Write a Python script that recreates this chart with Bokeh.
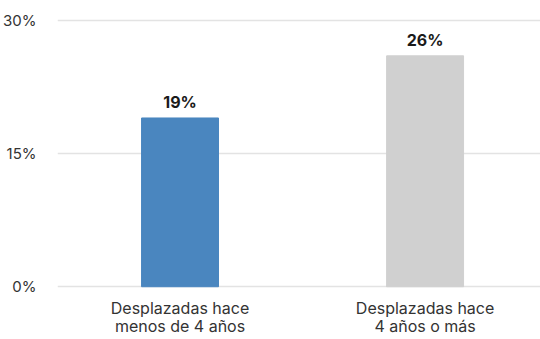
from bokeh.plotting import figure
from bokeh.models import ColumnDataSource, Range1d, FixedTicker
from bokeh.core.properties import value
from bokeh.embed import file_html
from bokeh.resources import INLINE

categories = ["Desplazadas hace\nmenos de 4 años", "Desplazadas hace\n4 años o más"]
values = [19, 26]
colors = ["#4a86bf", "#d0d0d0"]
labels = ["19%", "26%"]
y_ticks = [0, 15, 30]

xpos = [0.5 + i for i in range(len(categories))]
src = ColumnDataSource(dict(x=xpos, top=values, color=colors, label=labels))

FONT = "Inter"
p = figure(width=540, height=339, output_backend="svg", toolbar_location=None,
           x_range=Range1d(0, 1.971), y_range=Range1d(-0.2, 30.2),
           min_border_left=57, min_border_top=18, min_border_right=0, min_border_bottom=51)
p.outline_line_color = None
p.background_fill_color = "white"
p.border_fill_color = "white"

p.vbar(x="x", top="top", bottom=0, width=0.314, color="color", source=src)
p.text(x="x", y="top", text="label", source=src, text_align="center", text_baseline="bottom",
       y_offset=-6, text_font=value(FONT), text_font_style="bold", text_font_size="16px",
       text_color="#1a1a1a")

p.xgrid.grid_line_color = None
p.ygrid.grid_line_color = "#e3e3e3"
p.ygrid.grid_line_width = 1.5
p.ygrid.level = "underlay"
p.yaxis.ticker = FixedTicker(ticks=y_ticks)
p.yaxis.major_label_overrides = {t: f"{t}%" for t in y_ticks}
p.yaxis.axis_line_color = None
p.yaxis.major_tick_line_color = None
p.yaxis.minor_tick_line_color = None
p.yaxis.major_label_text_font = FONT
p.yaxis.major_label_text_font_size = "15px"
p.yaxis.major_label_text_color = "#333333"
p.yaxis.major_label_standoff = 15

p.xaxis.ticker = FixedTicker(ticks=xpos)
p.xaxis.major_label_overrides = {x: c for x, c in zip(xpos, categories)}
p.xaxis.axis_line_color = None
p.xaxis.major_tick_line_color = None
p.xaxis.minor_tick_line_color = None
p.xaxis.major_label_text_font = FONT
p.xaxis.major_label_text_font_size = "16px"
p.xaxis.major_label_text_line_height = 0.92
p.xaxis.major_label_text_color = "#333333"
p.xaxis.major_label_standoff = 3

open("out.html", "w").write(file_html(p, INLINE))
